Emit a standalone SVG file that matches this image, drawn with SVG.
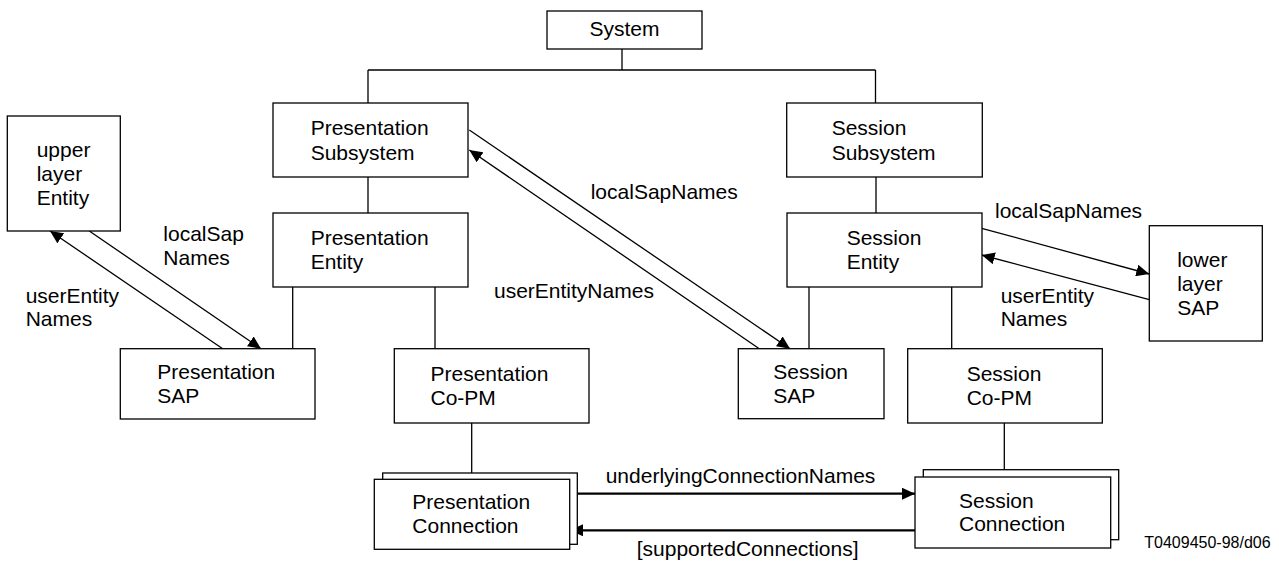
<svg xmlns="http://www.w3.org/2000/svg" width="1279" height="562" viewBox="0 0 1279 562">
<style>
.box{fill:#fff;stroke:#000;stroke-width:1.3}
.ln{fill:none;stroke:#000;stroke-width:1.3}
.thick{fill:none;stroke:#000;stroke-width:2.2}
.t{font-family:"Liberation Sans",Arial,sans-serif;font-size:21px;fill:#000}
.s{font-family:"Liberation Sans",Arial,sans-serif;font-size:16px;fill:#000}
</style>
<defs>
<marker id="ah" viewBox="0 0 13 12" refX="13" refY="6" markerWidth="13" markerHeight="12" markerUnits="userSpaceOnUse" orient="auto">
<path d="M0,0 L13,6 L0,12 z" fill="#000"/>
</marker>
</defs>
<g id="connectors">
<path class="ln" d="M622,49 V70 M368,70 H875.5 M368,70 V103 M875.5,70 V103"/>
<path class="ln" d="M368,177 V213 M876,177 V213"/>
<path class="ln" d="M292.7,287 V348.7 M435,287 V348.7"/>
<path class="ln" d="M809,287 V348.7 M951.7,287 V348.7"/>
<path class="ln" d="M471.7,423 V473 M1004.3,423 V469.7"/>
<line class="ln" x1="89.3" y1="231" x2="261" y2="348.7" marker-end="url(#ah)"/>
<line class="ln" x1="222.7" y1="348.7" x2="50" y2="231" marker-end="url(#ah)"/>
<line class="ln" x1="469.3" y1="130" x2="790" y2="348.7" marker-end="url(#ah)"/>
<line class="ln" x1="759.3" y1="348.7" x2="469.3" y2="150" marker-end="url(#ah)"/>
<line class="ln" x1="981.7" y1="228.3" x2="1149.3" y2="274" marker-end="url(#ah)"/>
<line class="ln" x1="1149.3" y1="299.7" x2="981.7" y2="255" marker-end="url(#ah)"/>
<line class="thick" x1="569.7" y1="493.7" x2="915" y2="493.7" marker-end="url(#ah)"/>
<line class="thick" x1="915" y1="530.3" x2="570" y2="530.3" marker-end="url(#ah)"/>
<text class="t" x="163.3" y="240.7">localSap</text>
<text class="t" x="163.3" y="265">Names</text>
<text class="t" x="25.7" y="302.7">userEntity</text>
<text class="t" x="25.7" y="325.7">Names</text>
<text class="t" x="590.7" y="199.3">localSapNames</text>
<text class="t" x="494" y="298">userEntityNames</text>
<text class="t" x="995" y="218.3">localSapNames</text>
<text class="t" x="1000.7" y="302.7">userEntity</text>
<text class="t" x="1000.7" y="325.7">Names</text>
<text class="t" x="605.7" y="482.7">underlyingConnectionNames</text>
<text class="t" x="636.7" y="556">[supportedConnections]</text>
</g>
<g id="system">
<rect class="box" x="547" y="11" width="155" height="38"/>
<text class="t" x="624.5" y="36" text-anchor="middle">System</text>
</g>
<g id="presentation-subsystem">
<rect class="box" x="273" y="103" width="195" height="74"/>
<text class="t" x="310.7" y="135">Presentation</text>
<text class="t" x="310.7" y="159.5">Subsystem</text>
</g>
<g id="session-subsystem">
<rect class="box" x="786.7" y="103" width="195.6" height="74"/>
<text class="t" x="831.7" y="135">Session</text>
<text class="t" x="831.7" y="159.5">Subsystem</text>
</g>
<g id="upper-layer-entity">
<rect class="box" x="7.3" y="116" width="113" height="115"/>
<text class="t" x="36.7" y="157">upper</text>
<text class="t" x="36.7" y="181">layer</text>
<text class="t" x="36.7" y="205">Entity</text>
</g>
<g id="presentation-entity">
<rect class="box" x="273" y="213" width="195" height="74"/>
<text class="t" x="310.7" y="245">Presentation</text>
<text class="t" x="310.7" y="269.3">Entity</text>
</g>
<g id="session-entity">
<rect class="box" x="787" y="213" width="195" height="74"/>
<text class="t" x="846.7" y="245">Session</text>
<text class="t" x="846.7" y="269.3">Entity</text>
</g>
<g id="lower-layer-sap">
<rect class="box" x="1149.3" y="225.7" width="113" height="115.3"/>
<text class="t" x="1177.2" y="266.7">lower</text>
<text class="t" x="1177.2" y="290.5">layer</text>
<text class="t" x="1177.2" y="315">SAP</text>
</g>
<g id="presentation-sap">
<rect class="box" x="120.3" y="348.7" width="194.7" height="70.3"/>
<text class="t" x="157.3" y="379.3">Presentation</text>
<text class="t" x="157.3" y="403">SAP</text>
</g>
<g id="presentation-co-pm">
<rect class="box" x="394.3" y="348.7" width="194.7" height="74.3"/>
<text class="t" x="430.5" y="380.5">Presentation</text>
<text class="t" x="430.5" y="404.7">Co-PM</text>
</g>
<g id="session-sap">
<rect class="box" x="738.3" y="348.7" width="145.7" height="70"/>
<text class="t" x="773.3" y="379.3">Session</text>
<text class="t" x="773.3" y="403">SAP</text>
</g>
<g id="session-co-pm">
<rect class="box" x="907.7" y="348.7" width="194.6" height="74.3"/>
<text class="t" x="966.7" y="381">Session</text>
<text class="t" x="966.7" y="404.7">Co-PM</text>
</g>
<g id="presentation-connection">
<rect class="box" x="382.7" y="473" width="194.6" height="71.3"/>
<rect class="box" x="374.3" y="479.3" width="195.4" height="70"/>
<text class="t" x="412.3" y="509.3">Presentation</text>
<text class="t" x="412.3" y="533">Connection</text>
</g>
<g id="session-connection">
<rect class="box" x="923.3" y="469.7" width="195.4" height="70"/>
<rect class="box" x="915" y="477" width="195.7" height="71"/>
<text class="t" x="959" y="507.7">Session</text>
<text class="t" x="959" y="531.3">Connection</text>
</g>
<text class="s" x="1144.3" y="548">T0409450-98/d06</text>
</svg>
